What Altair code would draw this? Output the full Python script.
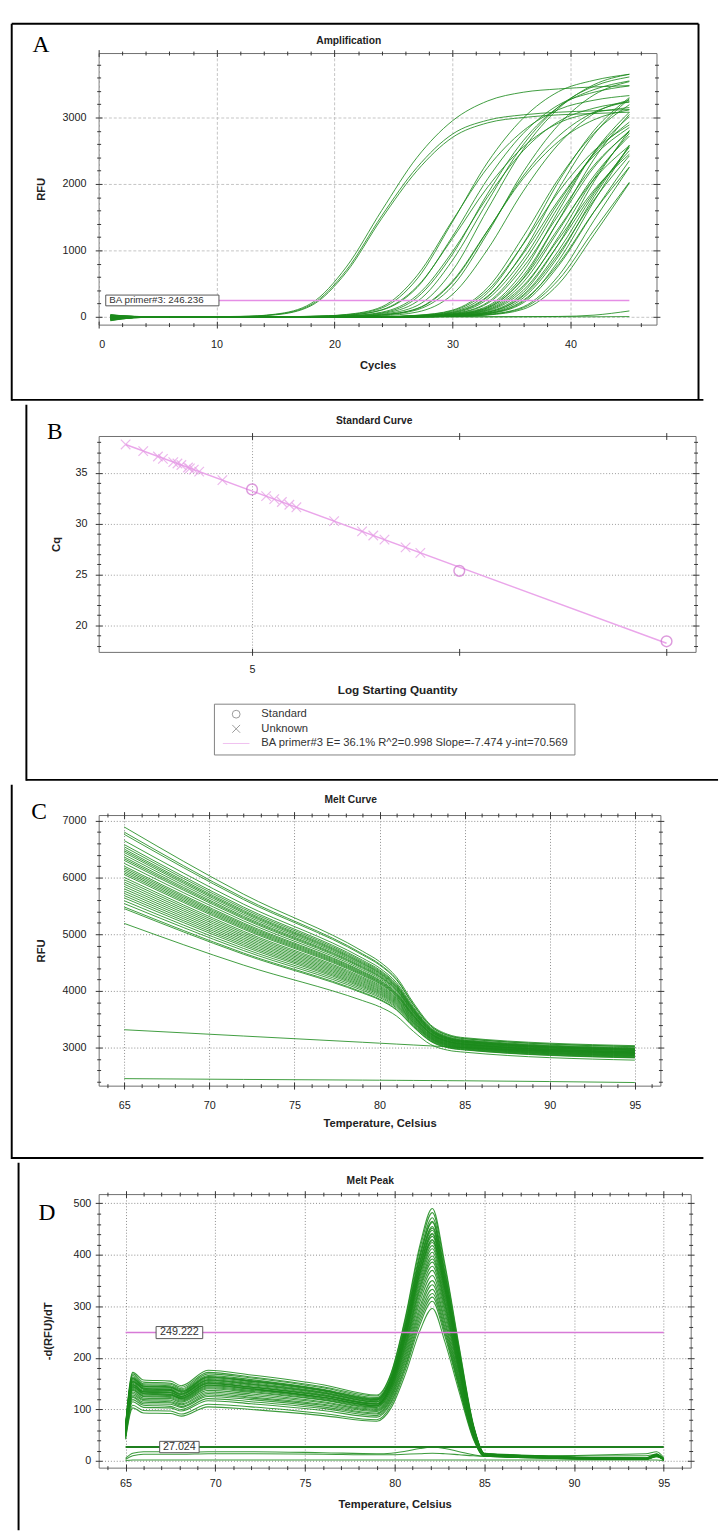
import altair as alt
import pandas as pd

FONT = "Liberation Sans"
SERIF = "Liberation Serif"
GREEN = "#1a8a1a"
INK = "#222222"
TICK = "#333333"

# ---------------- Panel A : Amplification ----------------
A_CYCLES = [1, 3, 6, 12, 15, 18, 21, 24, 27, 30, 33, 36, 39, 42, 45]
A_CURVES = [
    [-30, -10, 0, 5, 40, 200, 750, 1600, 2400, 2950, 3250, 3380, 3430, 3460, 3480],
    [-50, -15, 0, 5, 35, 180, 700, 1520, 2250, 2750, 2960, 3040, 3080, 3100, 3120],
    [20, 5, 0, 5, 30, 165, 670, 1480, 2200, 2700, 2920, 3000, 3040, 3060, 3080],
    [-20, -5, 0, 0, 0, 5, 35, 150, 620, 1450, 2250, 2800, 3120, 3260, 3330],
    [10, 0, 0, 0, 0, 8, 31, 132, 570, 1430, 2330, 2990, 3390, 3560, 3650],
    [-30, -10, 0, 0, 0, 5, 23, 100, 440, 1210, 2080, 2760, 3190, 3380, 3475],
    [0, 0, 0, 0, 0, 3, 15, 69, 323, 980, 1810, 2500, 2940, 3140, 3230],
    [-10, 0, 0, 0, 0, 3, 13, 59, 290, 940, 1860, 2650, 3160, 3420, 3550],
    [15, 5, 0, 0, 0, 2, 9, 50, 230, 850, 1740, 2590, 3160, 3470, 3610],
    [-40, -10, 0, 0, 0, 0, 6, 39, 168, 694, 1624, 2520, 3136, 3494, 3651],
    [0, 0, 0, 0, 0, 0, 3, 28, 120, 520, 1300, 2120, 2720, 3080, 3240],
    [-20, -5, 0, 0, 0, 0, 2, 24, 105, 462, 1265, 2180, 2890, 3340, 3540],
    [5, 0, 0, 0, 0, 0, 0, 15, 71, 337, 1020, 1890, 2600, 3060, 3260],
    [20, 5, 0, 0, 0, 6, 24, 105, 456, 1178, 1957, 2556, 2917, 3073, 3149],
    [-15, -5, 0, 0, 0, 0, 4, 30, 125, 538, 1306, 2083, 2640, 2966, 3115],
    [-25, -5, 0, 0, 0, 0, 0, 2, 23, 100, 441, 1208, 2079, 2762, 3192],
    [10, 0, 0, 0, 0, 0, 0, 2, 21, 90, 399, 1093, 1881, 2499, 2888],
    [-45, -10, 0, 0, 0, 0, 0, 1, 17, 77, 363, 1100, 2035, 2805, 3300],
    [0, 0, 0, 0, 0, 0, 0, 1, 14, 67, 314, 950, 1758, 2423, 2850],
    [-30, -5, 0, 0, 0, 0, 0, 0, 12, 55, 270, 870, 1720, 2450, 2930],
    [25, 5, 0, 0, 0, 0, 0, 0, 13, 62, 302, 974, 1926, 2744, 3282],
    [-10, 0, 0, 0, 0, 0, 0, 0, 8, 44, 204, 747, 1533, 2280, 2784],
    [-55, -15, 0, 0, 0, 0, 0, 0, 8, 47, 221, 809, 1659, 2468, 3014],
    [5, 0, 0, 0, 0, 0, 0, 0, 5, 35, 150, 620, 1450, 2250, 2800],
    [-20, -5, 0, 0, 0, 0, 0, 0, 6, 39, 165, 682, 1595, 2475, 3080],
    [30, 5, 0, 0, 0, 0, 0, 0, 5, 32, 138, 570, 1334, 2070, 2576],
    [-35, -10, 0, 0, 0, 0, 0, 0, 3, 28, 120, 520, 1300, 2120, 2720],
    [0, 0, 0, 0, 0, 0, 0, 0, 3, 31, 134, 582, 1456, 2374, 3046],
    [-15, -5, 0, 0, 0, 0, 0, 0, 3, 25, 108, 468, 1170, 1908, 2448],
    [15, 0, 0, 0, 0, 0, 0, 0, 2, 23, 100, 441, 1208, 2079, 2762],
    [-40, -10, 0, 0, 0, 0, 0, 0, 2, 21, 90, 399, 1093, 1881, 2499],
    [-5, 0, 0, 0, 0, 0, 0, 0, 0, 17, 77, 363, 1100, 2035, 2805],
    [20, 5, 0, 0, 0, 0, 0, 0, 0, 14, 67, 314, 950, 1758, 2423],
    [-25, -5, 0, 0, 0, 0, 0, 0, 0, 15, 70, 330, 1000, 1850, 2550],
    [-60, -15, 0, 0, 0, 0, 0, 0, 0, 13, 58, 284, 914, 1806, 2573],
    [10, 0, 0, 0, 0, 0, 0, 0, 0, 11, 51, 248, 800, 1582, 2254],
    [-30, -5, 0, 0, 0, 0, 0, 0, 0, 8, 45, 210, 770, 1580, 2350],
    [0, 0, 0, 0, 0, 0, 0, 0, 0, 9, 50, 231, 847, 1738, 2585],
    [-20, -5, 0, 0, 0, 0, 0, 0, 0, 5, 35, 150, 620, 1450, 2250],
    [35, 5, 0, 0, 0, 0, 0, 0, 0, 3, 27, 114, 494, 1235, 2014],
    [-45, -10, 0, 0, 0, 0, 0, 0, 0, 5, 32, 135, 558, 1305, 2025],
    [-40, -10, 0, 0, 0, 0, 0, 0, 0, 0, 0, 2, 5, 25, 88],
    [10, 0, 0, 0, 0, 0, 0, 0, 0, 0, 0, 0, 0, 0, 3],
]
A_THRESHOLD = 246.236
A_THRESHOLD_SPAN = [1, 45]
A_THRESHOLD_LABEL = "BA primer#3: 246.236"
A_LABEL_BOX_X = [0.6, 10.2]
A_LABEL_BOX_Y = [165, 327]
A_X_TICKS = [0, 10, 20, 30, 40]
A_Y_TICKS = [0, 1000, 2000, 3000]
A_X_MINOR = [2, 4, 6, 8, 12, 14, 16, 18, 22, 24, 26, 28, 32, 34, 36, 38, 42, 44, 46]
A_Y_MINOR = [200, 400, 600, 800, 1200, 1400, 1600, 1800, 2200, 2400, 2600, 2800, 3200, 3400, 3600, 3800]

# ---------------- Panel B : Standard Curve ----------------
B_STD_LOGQ = [5.0, 6.0, 7.0]
B_STD_CQ = [33.36, 25.36, 18.44]
B_UNK_LOGQ = [4.39, 4.475, 4.546, 4.57, 4.62, 4.64, 4.659, 4.691, 4.70, 4.719, 4.745, 4.857,
              5.068, 5.107, 5.144, 5.18, 5.214, 5.396, 5.531, 5.585, 5.639, 5.741, 5.812]
B_UNK_CQ = [37.77, 37.12, 36.59, 36.35, 36.04, 35.9, 35.75, 35.51, 35.42, 35.30, 35.10, 34.27,
            32.69, 32.40, 32.12, 31.85, 31.60, 30.24, 29.23, 28.83, 28.42, 27.66, 27.13]
B_FIT_LOGQ = [4.39, 7.0]
B_FIT_CQ = [37.76, 18.25]
B_FIT_LABEL = "BA primer#3 E= 36.1% R^2=0.998 Slope=-7.474 y-int=70.569"
B_KINDS = ["Standard", "Unknown", B_FIT_LABEL]
B_X_TICKS = [5, 6, 7]
B_X_LABELS = [5]
B_Y_TICKS = [20, 25, 30, 35]
B_Y_MINOR = [18, 19, 21, 22, 23, 24, 26, 27, 28, 29, 31, 32, 33, 34, 36, 37, 38]

# ---------------- Panel C : Melt Curve ----------------
C_TEMPS = [65, 72, 79, 80, 81, 82, 83, 84, 85, 95]
C_CURVES = [
    [6890, 5707, 4700, 4517, 4242, 3785, 3404, 3236, 3175, 3035],
    [6800, 5641, 4654, 4475, 4206, 3759, 3386, 3222, 3162, 3022],
    [6760, 5612, 4634, 4457, 4191, 3747, 3378, 3215, 3156, 3016],
    [6650, 5531, 4578, 4405, 4146, 3715, 3355, 3197, 3139, 2999],
    [6580, 5479, 4542, 4372, 4118, 3694, 3341, 3186, 3129, 2989],
    [6540, 5450, 4521, 4353, 4102, 3682, 3333, 3179, 3123, 2983],
    [6500, 5420, 4501, 4335, 4086, 3671, 3325, 3172, 3117, 2977],
    [6470, 5398, 4485, 4320, 4073, 3661, 3318, 3167, 3112, 2972],
    [6440, 5376, 4470, 4307, 4061, 3653, 3312, 3162, 3108, 2968],
    [6400, 5347, 4450, 4288, 4046, 3641, 3304, 3156, 3102, 2962],
    [6360, 5317, 4429, 4269, 4029, 3629, 3296, 3149, 3096, 2956],
    [6330, 5295, 4414, 4255, 4017, 3620, 3289, 3144, 3091, 2951],
    [6300, 5273, 4398, 4241, 4005, 3611, 3284, 3139, 3087, 2947],
    [6250, 5236, 4373, 4218, 3985, 3597, 3273, 3131, 3079, 2939],
    [6200, 5199, 4347, 4194, 3964, 3582, 3263, 3123, 3072, 2932],
    [6170, 5177, 4332, 4180, 3952, 3573, 3257, 3118, 3067, 2927],
    [6140, 5155, 4316, 4166, 3940, 3564, 3251, 3113, 3063, 2923],
    [6110, 5133, 4301, 4152, 3928, 3555, 3244, 3108, 3058, 2918],
    [6080, 5111, 4286, 4138, 3916, 3547, 3239, 3103, 3054, 2914],
    [6050, 5089, 4270, 4123, 3904, 3537, 3232, 3098, 3049, 2909],
    [6000, 5052, 4245, 4101, 3884, 3523, 3222, 3090, 3042, 2902],
    [5960, 5023, 4224, 4081, 3868, 3511, 3214, 3084, 3036, 2896],
    [5920, 4993, 4204, 4063, 3852, 3500, 3206, 3077, 3030, 2890],
    [5880, 4964, 4183, 4044, 3835, 3488, 3198, 3070, 3024, 2884],
    [5840, 4934, 4163, 4026, 3819, 3476, 3190, 3064, 3018, 2878],
    [5800, 4905, 4142, 4006, 3803, 3464, 3181, 3057, 3012, 2872],
    [5760, 4875, 4122, 3988, 3787, 3452, 3173, 3051, 3006, 2866],
    [5720, 4846, 4101, 3969, 3771, 3440, 3165, 3044, 3000, 2860],
    [5680, 4816, 4081, 3951, 3755, 3429, 3157, 3037, 2994, 2854],
    [5640, 4787, 4060, 3931, 3738, 3417, 3149, 3031, 2988, 2848],
    [5590, 4750, 4035, 3908, 3718, 3402, 3138, 3022, 2980, 2840],
    [5540, 4713, 4009, 3885, 3698, 3387, 3128, 3014, 2973, 2833],
    [5480, 4669, 3979, 3857, 3674, 3370, 3116, 3005, 2964, 2824],
    [5450, 4647, 3963, 3843, 3662, 3361, 3110, 2999, 2959, 2819],
    [5190, 4456, 3830, 3721, 3557, 3284, 3056, 2956, 2920, 2780],
    [3316, 3205, 3095, 3079, 3063, 3047, 3031, 3015, 3000, 2900],
    [2454, 2440, 2428, 2426, 2424, 2422, 2420, 2418, 2416, 2385],
]
C_X_TICKS = [65, 70, 75, 80, 85, 90, 95]
C_Y_TICKS = [3000, 4000, 5000, 6000, 7000]
C_X_MINOR = [64, 66, 67, 68, 69, 71, 72, 73, 74, 76, 77, 78, 79, 81, 82, 83, 84, 86, 87, 88, 89, 91, 92, 93, 94, 96]
C_Y_MINOR = [2400, 2600, 2800, 3200, 3400, 3600, 3800, 4200, 4400, 4600, 4800, 5200, 5400, 5600, 5800,
             6200, 6400, 6600, 6800]

# ---------------- Panel D : Melt Peak ----------------
D_TEMPS = [65, 65.4, 66, 67.5, 68.1, 69.6, 72, 76, 79, 79.8, 80.6, 81.4, 82.1, 82.8, 83.6, 84.4, 85, 94, 94.6, 95]
D_CURVES = [
    [70, 172, 157, 155, 146, 176, 167, 148, 128, 171, 280, 418, 490, 382, 221, 69, 15, 6, 14, 2],
    [69, 169, 153, 151, 143, 172, 163, 144, 126, 169, 276, 411, 482, 376, 217, 67, 14, 5, 13, 2],
    [68, 166, 150, 149, 140, 169, 161, 142, 123, 165, 270, 402, 472, 368, 212, 66, 14, 5, 12, 3],
    [66, 163, 148, 146, 138, 166, 158, 139, 121, 162, 265, 395, 463, 361, 208, 65, 14, 5, 13, 2],
    [66, 161, 146, 144, 136, 164, 156, 138, 120, 160, 261, 388, 455, 355, 205, 64, 13, 4, 12, 2],
    [65, 159, 144, 143, 134, 162, 154, 136, 118, 158, 257, 382, 448, 349, 202, 63, 13, 5, 11, 3],
    [64, 157, 142, 141, 133, 160, 152, 134, 117, 156, 254, 377, 442, 345, 199, 62, 13, 4, 12, 2],
    [63, 155, 141, 139, 131, 158, 150, 133, 115, 154, 250, 372, 436, 340, 196, 61, 13, 5, 12, 2],
    [62, 153, 139, 137, 129, 156, 148, 131, 114, 152, 247, 367, 430, 335, 194, 60, 12, 4, 11, 2],
    [62, 151, 137, 136, 128, 154, 146, 129, 112, 149, 243, 362, 424, 331, 191, 59, 12, 4, 12, 3],
    [61, 149, 135, 134, 126, 152, 144, 128, 111, 148, 240, 357, 418, 326, 188, 59, 12, 5, 11, 2],
    [60, 147, 134, 132, 125, 150, 143, 126, 110, 146, 237, 352, 412, 321, 185, 58, 12, 4, 11, 2],
    [59, 145, 132, 130, 123, 148, 141, 124, 108, 144, 233, 346, 405, 316, 182, 57, 12, 4, 12, 2],
    [58, 143, 130, 128, 121, 146, 139, 123, 107, 142, 229, 340, 398, 310, 179, 56, 11, 4, 11, 2],
    [58, 141, 128, 127, 120, 144, 137, 121, 105, 139, 226, 335, 392, 306, 176, 55, 11, 4, 11, 3],
    [57, 139, 126, 125, 118, 142, 135, 119, 104, 138, 222, 330, 386, 301, 174, 54, 11, 4, 11, 2],
    [56, 137, 125, 123, 116, 140, 133, 118, 102, 135, 218, 323, 378, 295, 170, 53, 11, 4, 10, 2],
    [55, 134, 122, 121, 114, 137, 130, 115, 100, 132, 213, 316, 370, 289, 167, 52, 11, 4, 10, 2],
    [54, 131, 119, 118, 111, 134, 127, 113, 98, 129, 208, 308, 360, 281, 162, 50, 10, 4, 10, 2],
    [52, 128, 117, 115, 109, 131, 124, 110, 96, 126, 203, 299, 350, 273, 158, 49, 10, 4, 10, 2],
    [51, 125, 114, 113, 106, 128, 122, 108, 93, 123, 198, 292, 342, 267, 154, 48, 10, 4, 9, 2],
    [50, 123, 111, 110, 104, 125, 119, 105, 91, 120, 193, 285, 333, 260, 150, 47, 10, 3, 9, 2],
    [48, 119, 108, 106, 100, 121, 115, 102, 88, 116, 187, 278, 325, 254, 146, 46, 10, 3, 9, 2],
    [47, 115, 104, 103, 97, 117, 111, 98, 85, 113, 183, 271, 318, 248, 143, 45, 9, 3, 9, 2],
    [44, 108, 98, 97, 91, 110, 105, 92, 80, 108, 177, 264, 310, 242, 140, 43, 9, 3, 8, 2],
    [42, 103, 93, 92, 87, 105, 100, 88, 77, 103, 169, 252, 296, 231, 133, 41, 9, 3, 8, 2],
    [65, 160, 145, 143, 135, 163, 155, 137, 119, 161, 264, 396, 465, 363, 209, 65, 14, 5, 12, 2],
    [63, 154, 140, 138, 130, 157, 149, 132, 115, 155, 257, 385, 452, 353, 203, 63, 13, 4, 12, 2],
    [60, 148, 134, 133, 125, 151, 143, 127, 110, 150, 249, 374, 440, 343, 198, 62, 13, 4, 11, 2],
    [59, 144, 131, 129, 122, 147, 140, 123, 107, 146, 242, 364, 428, 334, 193, 60, 12, 4, 11, 2],
    [5, 15, 18, 18, 17, 18, 18, 16, 14, 15, 19, 24, 27, 24, 18, 12, 9, 14, 18, 6],
    [3, 10, 13, 13, 13, 14, 14, 13, 12, 12, 13, 14, 15, 14, 12, 10, 9, 10, 13, 4],
    [1, 2, 2, 2, 2, 2, 2, 2, 2, 2, 2, 2, 2, 2, 2, 2, 2, 2, 2, 1],
]
D_PEAK_THRESHOLD = 249.222
D_PEAK_LABEL = "249.222"
D_PEAK_BOX_X = [66.7, 69.3]
D_PEAK_BOX_Y = [237.5, 260.9]
D_LOW_THRESHOLD = 27.024
D_LOW_LABEL = "27.024"
D_LOW_BOX_X = [66.9, 69.1]
D_LOW_BOX_Y = [16, 38]
D_THRESHOLD_SPAN = [65, 95]
D_X_TICKS = [65, 70, 75, 80, 85, 90, 95]
D_Y_TICKS = [0, 100, 200, 300, 400, 500]
D_X_MINOR = C_X_MINOR
D_Y_MINOR = [20, 40, 60, 80, 120, 140, 160, 180, 220, 240, 260, 280, 320, 340, 360, 380, 420, 440, 460, 480]

ONE = pd.DataFrame({"k": [0]})


def long_df(xs, rows):
    recs = []
    for i, row in enumerate(rows):
        for x, y in zip(xs, row):
            recs.append({"curve": i, "x": x, "y": y})
    return pd.DataFrame(recs)


def hrule(x1, x2, y, width=2, color="#000000"):
    return alt.Chart(ONE).mark_rule(color=color, strokeWidth=width).encode(
        x=alt.value(x1), x2=alt.value(x2), y=alt.value(y))


def vrule(x, y1, y2, width=2, color="#000000"):
    return alt.Chart(ONE).mark_rule(color=color, strokeWidth=width).encode(
        x=alt.value(x), y=alt.value(y1), y2=alt.value(y2))


def deco_text(txt, x, y, size, weight="normal", font=FONT, color=INK):
    return alt.Chart(ONE).mark_text(text=txt, font=font, fontSize=size, fontWeight=weight, color=color,
                                    align="center", baseline="middle").encode(x=alt.value(x), y=alt.value(y))


def bounds_rect(x1, x2, y1, y2):
    return alt.Chart(ONE).mark_rect(opacity=0).encode(
        x=alt.value(x1), x2=alt.value(x2), y=alt.value(y1), y2=alt.value(y2))


def tick_axis(orient, values, size):
    return alt.Axis(orient=orient, values=values, labels=False, domain=False, grid=False, ticks=True,
                    tickSize=size, offset=-size / 2, tickColor=TICK, tickWidth=1, title=None)


def x_main(values, title, pad, title_y, W, gcolor, gdash, title_size=11.5):
    return alt.Axis(orient="bottom", values=values, format="d", domain=False, ticks=False, grid=True,
                    gridColor=gcolor, gridDash=gdash, gridWidth=1,
                    labelFont=FONT, labelFontSize=11, labelColor=INK, labelPadding=pad,
                    title=title, titleFont=FONT, titleFontSize=title_size, titleFontWeight="bold",
                    titleColor=INK, titleX=W / 2, titleY=title_y, titleAlign="center", titleBaseline="middle")


def y_main(values, title, pad, title_x, H, gcolor, gdash, title_size=11.5):
    return alt.Axis(orient="left", values=values, format="d", domain=False, ticks=False, grid=True,
                    gridColor=gcolor, gridDash=gdash, gridWidth=1,
                    labelFont=FONT, labelFontSize=11, labelColor=INK, labelPadding=pad,
                    title=title, titleFont=FONT, titleFontSize=title_size, titleFontWeight="bold",
                    titleColor=INK, titleX=title_x, titleY=H / 2, titleAngle=270,
                    titleAlign="center", titleBaseline="middle")


def hosts(xs, ys, xdom, ydom, xmaj, ymaj, xmin, ymin, big=7, small=4):
    d = pd.DataFrame({"hx": [xdom[0]], "hy": [ydom[0]]})
    out = []
    for xo, yo, xv, yv, sz in [("bottom", "left", xmaj, ymaj, big), ("top", "right", xmaj, ymaj, big),
                                ("bottom", "left", xmin, ymin, small), ("top", "right", xmin, ymin, small)]:
        out.append(alt.Chart(d).mark_point(opacity=0).encode(
            x=alt.X("hx:Q", scale=xs, axis=tick_axis(xo, xv, sz) if xv else None),
            y=alt.Y("hy:Q", scale=ys, axis=tick_axis(yo, yv, sz) if yv else None)))
    return out


def lines_layer(df, xs, ys, xaxis, yaxis, width=1.0, opacity=0.9):
    return alt.Chart(df).mark_line(color=GREEN, strokeWidth=width, opacity=opacity,
                                   interpolate="monotone").encode(
        x=alt.X("x:Q", scale=xs, axis=xaxis), y=alt.Y("y:Q", scale=ys, axis=yaxis), detail="curve:N")


def hline(xspan, yval, xs, ys, color, width):
    d = pd.DataFrame({"x": xspan, "y": [yval, yval]})
    return alt.Chart(d).mark_line(color=color, strokeWidth=width).encode(
        x=alt.X("x:Q", scale=xs, axis=None), y=alt.Y("y:Q", scale=ys, axis=None))


def label_box(bx, by, txt, tx, ty, xs, ys, size, align):
    rd = pd.DataFrame({"x1": [bx[0]], "x2": [bx[1]], "y1": [by[0]], "y2": [by[1]]})
    box = alt.Chart(rd).mark_rect(fill="#ffffff", stroke="#555555", strokeWidth=1).encode(
        x=alt.X("x1:Q", scale=xs, axis=None), x2="x2:Q",
        y=alt.Y("y1:Q", scale=ys, axis=None), y2="y2:Q")
    td = pd.DataFrame({"x": [tx], "y": [ty], "t": [txt]})
    text = alt.Chart(td).mark_text(font=FONT, fontSize=size, color="#333333", align=align,
                                   baseline="middle").encode(
        x=alt.X("x:Q", scale=xs, axis=None), y=alt.Y("y:Q", scale=ys, axis=None), text="t:N")
    return [box, text]


def sc(dom):
    return alt.Scale(domain=dom, nice=False, zero=False)


# ---------------- build A ----------------
AW, AH = 571, 278
A_XDOM, A_YDOM = [0, 47.3], [-118, 3970]
axs, ays = sc(A_XDOM), sc(A_YDOM)
A_layers = [
    bounds_rect(-100, 620, -35, 356),
    hrule(-89, 614, -30), vrule(-89, -30, 356), vrule(614, -30, 355), hrule(-89, 619, 355),
    lines_layer(long_df(A_CYCLES, A_CURVES), axs, ays,
                x_main(A_X_TICKS, "Cycles", 14, 42, AW, "#c4c4c4", [3, 2]),
                y_main(A_Y_TICKS, "RFU", 13, -58, AH, "#c4c4c4", [3, 2]), width=1.0, opacity=0.85),
    hline(A_THRESHOLD_SPAN, A_THRESHOLD, axs, ays, "#e58ee5", 1.5),
] + label_box(A_LABEL_BOX_X, A_LABEL_BOX_Y, A_THRESHOLD_LABEL, 0.9, A_THRESHOLD, axs, ays, 10, "left") \
  + hosts(axs, ays, A_XDOM, A_YDOM, A_X_TICKS, A_Y_TICKS, A_X_MINOR, A_Y_MINOR) + [
    deco_text("Amplification", 256, -12, 10.5, "bold"),
    deco_text("A", -59, -8, 24, font=SERIF, color="#000000"),
]
A = alt.layer(*A_layers).resolve_axis(x="independent", y="independent").properties(width=AW, height=AH)

# ---------------- build B ----------------
BW, BH = 611, 221
B_XDOM, B_YDOM = [4.26, 7.14], [17.4, 38.6]
bxs, bys = sc(B_XDOM), sc(B_YDOM)
shape_scale = alt.Scale(domain=B_KINDS, range=["circle", "M-1,-1L1,1M-1,1L1,-1", "M-3.4,0L3.4,0"])
stroke_scale = alt.Scale(domain=B_KINDS, range=["#707070", "#707070", "#eaa6ea"])


def b_legend():
    return alt.Legend(title=None, orient="none", legendX=118, legendY=274, direction="vertical",
                      strokeColor="#808080", fillColor="#ffffff", padding=5, labelFont=FONT,
                      labelFontSize=11.5, labelColor="#333333", labelLimit=800, symbolSize=64,
                      symbolStrokeWidth=1, rowPadding=2, symbolOffset=12, labelOffset=20)


fit_df = pd.DataFrame({"x": B_FIT_LOGQ, "y": B_FIT_CQ, "kind": [B_FIT_LABEL] * len(B_FIT_LOGQ)})
unk_df = pd.DataFrame({"x": B_UNK_LOGQ, "y": B_UNK_CQ, "kind": ["Unknown"] * len(B_UNK_LOGQ)})
std_df = pd.DataFrame({"x": B_STD_LOGQ, "y": B_STD_CQ, "kind": ["Standard"] * len(B_STD_LOGQ)})

B_layers = [
    bounds_rect(-85, 635, -32, 353),
    vrule(-74, -32, 353), hrule(-74, 634, 352),
    alt.Chart(fit_df).mark_line(strokeWidth=1.5).encode(
        x=alt.X("x:Q", scale=bxs, axis=x_main(B_X_LABELS, "Log Starting Quantity", 12, 39, BW, "#9a9a9a", [1, 2], 12)),
        y=alt.Y("y:Q", scale=bys, axis=y_main(B_Y_TICKS, "Cq", 12, -43, BH, "#9a9a9a", [1, 2])),
        stroke=alt.Stroke("kind:N", scale=stroke_scale, legend=b_legend())),
    alt.Chart(unk_df).mark_point(filled=False, size=95, strokeWidth=1.2, color="#e59be5").encode(
        x=alt.X("x:Q", scale=bxs, axis=None), y=alt.Y("y:Q", scale=bys, axis=None),
        shape=alt.Shape("kind:N", scale=shape_scale, legend=b_legend())),
    alt.Chart(std_df).mark_point(filled=False, size=120, strokeWidth=1.5, color="#d072d0").encode(
        x=alt.X("x:Q", scale=bxs, axis=None), y=alt.Y("y:Q", scale=bys, axis=None),
        shape=alt.Shape("kind:N", scale=shape_scale, legend=b_legend())),
] + hosts(bxs, bys, B_XDOM, B_YDOM, B_X_TICKS, B_Y_TICKS, [], B_Y_MINOR) + [
    deco_text("Standard Curve", 282, -15, 10.5, "bold"),
    deco_text("B", -45, -4, 24, font=SERIF, color="#000000"),
]
B = alt.layer(*B_layers).resolve_axis(x="independent", y="independent").properties(width=BW, height=BH)

# ---------------- build C ----------------
CW, CH = 575, 277
C_XDOM, C_YDOM = [63.5, 96.5], [2330, 7100]
cxs, cys = sc(C_XDOM), sc(C_YDOM)
C_layers = [
    bounds_rect(-100, 620, -31, 352),
    vrule(-89, -31, 352), hrule(-89, 619, 351),
    lines_layer(long_df(C_TEMPS, C_CURVES), cxs, cys,
                x_main(C_X_TICKS, "Temperature, Celsius", 14, 39, CW, "#8a8a8a", [1, 2]),
                y_main(C_Y_TICKS, "RFU", 13, -58, CH, "#8a8a8a", [1, 2]), width=1.0, opacity=0.85),
] + hosts(cxs, cys, C_XDOM, C_YDOM, C_X_TICKS, C_Y_TICKS, C_X_MINOR, C_Y_MINOR) + [
    deco_text("Melt Curve", 258, -15, 10.5, "bold"),
    deco_text("C", -61, -3, 24, font=SERIF, color="#000000"),
]
C = alt.layer(*C_layers).resolve_axis(x="independent", y="independent").properties(width=CW, height=CH)

# ---------------- build D ----------------
DW, DH = 606, 280
D_XDOM, D_YDOM = [63.5, 96.5], [-13, 518]
dxs, dys = sc(D_XDOM), sc(D_YDOM)
D_layers = [
    bounds_rect(-93, 627, -32, 345),
    vrule(-82, -32, 344),
    lines_layer(long_df(D_TEMPS, D_CURVES), dxs, dys,
                x_main(D_X_TICKS, "Temperature, Celsius", 10, 38, DW, "#8a8a8a", [1, 2]),
                y_main(D_Y_TICKS, "-d(RFU)/dT", 8, -51, DH, "#8a8a8a", [1, 2]), width=1.1, opacity=0.85),
    hline(D_THRESHOLD_SPAN, D_PEAK_THRESHOLD, dxs, dys, "#d77ad7", 1.5),
    hline(D_THRESHOLD_SPAN, D_LOW_THRESHOLD, dxs, dys, "#1f7f1f", 2),
] + label_box(D_PEAK_BOX_X, D_PEAK_BOX_Y, D_PEAK_LABEL, 68.0, D_PEAK_THRESHOLD, dxs, dys, 11, "center") \
  + label_box(D_LOW_BOX_X, D_LOW_BOX_Y, D_LOW_LABEL, 68.0, D_LOW_THRESHOLD, dxs, dys, 11, "center") \
  + hosts(dxs, dys, D_XDOM, D_YDOM, D_X_TICKS, D_Y_TICKS, D_X_MINOR, D_Y_MINOR) + [
    deco_text("Melt Peak", 278, -13, 10.5, "bold"),
    deco_text("D", -53, 19, 24, font=SERIF, color="#000000"),
]
D = alt.layer(*D_layers).resolve_axis(x="independent", y="independent").properties(width=DW, height=DH)

chart = alt.vconcat(A, B, C, D, spacing=0).resolve_scale(
    shape="independent", stroke="independent").resolve_legend(
    shape="independent", stroke="independent").properties(padding=0, background="#ffffff").configure_view(
    stroke="#6e6e6e", strokeWidth=1)

chart.save("out.html", embed_options={"renderer": "svg", "actions": False})
